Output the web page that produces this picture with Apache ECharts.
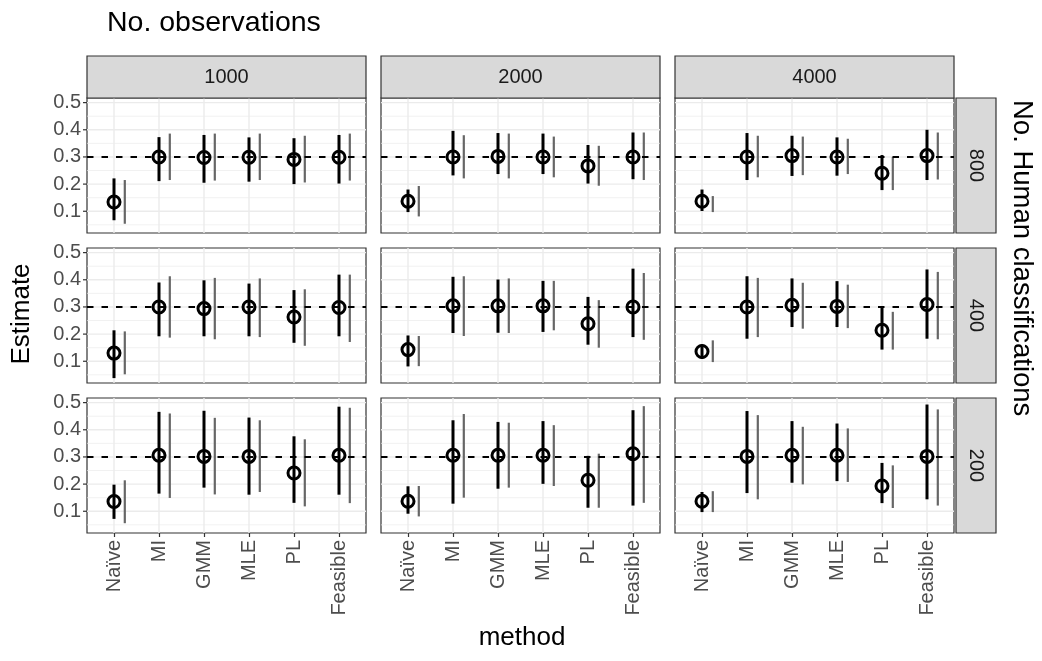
<!DOCTYPE html>
<html>
<head>
<meta charset="utf-8">
<script src="https://cdn.jsdelivr.net/npm/echarts@6/dist/echarts.min.js"></script>
<style>
  html, body { margin: 0; padding: 0; background: #fff; }
  #main { width: 1042px; height: 661px; }
</style>
</head>
<body>
<div id="main"></div>
<script>
var methods = ['Naïve', 'MI', 'GMM', 'MLE', 'PL', 'Feasible'];
var nObs = ['1000', '2000', '4000'];
var nHuman = ['800', '400', '200'];
var yTicks = [0.1, 0.2, 0.3, 0.4, 0.5];
var yMinor = [0.05, 0.15, 0.25, 0.35, 0.45];
var trueValue = 0.3;

// one inner array per No. observations (1000, 2000, 4000)
// est = point estimate, lo/hi = black interval, glo/ghi = grey interval
var est800 = [
  [0.134, 0.300, 0.298, 0.299, 0.291, 0.299],
  [0.137, 0.300, 0.302, 0.300, 0.267, 0.300],
  [0.137, 0.300, 0.305, 0.300, 0.240, 0.305]
];
var lo800 = [
  [0.067, 0.211, 0.205, 0.209, 0.200, 0.202],
  [0.097, 0.232, 0.237, 0.237, 0.202, 0.218],
  [0.101, 0.215, 0.230, 0.231, 0.178, 0.215]
];
var hi800 = [
  [0.221, 0.373, 0.381, 0.372, 0.369, 0.381],
  [0.180, 0.396, 0.388, 0.386, 0.344, 0.390],
  [0.180, 0.388, 0.378, 0.372, 0.307, 0.400]
];
var glo800 = [
  [0.054, 0.215, 0.213, 0.215, 0.206, 0.213],
  [0.081, 0.221, 0.221, 0.225, 0.194, 0.215],
  [0.097, 0.225, 0.233, 0.237, 0.178, 0.217]
];
var ghi800 = [
  [0.215, 0.386, 0.386, 0.386, 0.378, 0.386],
  [0.193, 0.380, 0.386, 0.375, 0.341, 0.390],
  [0.156, 0.378, 0.375, 0.367, 0.299, 0.390]
];

var est400 = [
  [0.130, 0.300, 0.294, 0.300, 0.263, 0.298],
  [0.143, 0.304, 0.304, 0.304, 0.238, 0.300],
  [0.136, 0.300, 0.306, 0.302, 0.214, 0.309]
];
var lo400 = [
  [0.038, 0.192, 0.192, 0.192, 0.168, 0.192],
  [0.081, 0.204, 0.205, 0.208, 0.161, 0.189],
  [0.109, 0.183, 0.226, 0.226, 0.143, 0.183]
];
var hi400 = [
  [0.214, 0.390, 0.398, 0.386, 0.362, 0.419],
  [0.195, 0.411, 0.401, 0.396, 0.337, 0.441],
  [0.162, 0.413, 0.405, 0.395, 0.300, 0.438]
];
var glo400 = [
  [0.052, 0.187, 0.181, 0.189, 0.157, 0.171],
  [0.082, 0.193, 0.204, 0.214, 0.150, 0.179],
  [0.097, 0.189, 0.220, 0.222, 0.143, 0.181]
];
var ghi400 = [
  [0.210, 0.413, 0.407, 0.405, 0.365, 0.419],
  [0.193, 0.413, 0.405, 0.396, 0.325, 0.425],
  [0.177, 0.407, 0.389, 0.382, 0.282, 0.429]
];

var est200 = [
  [0.136, 0.306, 0.302, 0.302, 0.241, 0.306],
  [0.137, 0.306, 0.306, 0.306, 0.214, 0.312],
  [0.137, 0.302, 0.306, 0.306, 0.193, 0.302]
];
var lo200 = [
  [0.072, 0.165, 0.187, 0.161, 0.131, 0.161],
  [0.091, 0.128, 0.183, 0.201, 0.113, 0.121],
  [0.097, 0.167, 0.205, 0.211, 0.130, 0.144]
];
var hi200 = [
  [0.198, 0.466, 0.470, 0.445, 0.376, 0.485],
  [0.192, 0.435, 0.429, 0.432, 0.304, 0.472],
  [0.171, 0.469, 0.432, 0.423, 0.278, 0.493]
];
var glo200 = [
  [0.056, 0.149, 0.162, 0.171, 0.118, 0.130],
  [0.081, 0.150, 0.187, 0.193, 0.113, 0.131],
  [0.097, 0.144, 0.199, 0.208, 0.112, 0.121]
];
var ghi200 = [
  [0.214, 0.460, 0.444, 0.435, 0.365, 0.481],
  [0.193, 0.458, 0.426, 0.417, 0.312, 0.487],
  [0.174, 0.454, 0.411, 0.405, 0.269, 0.475]
];

var rows = [
  [est800, lo800, hi800, glo800, ghi800],
  [est400, lo400, hi400, glo400, ghi400],
  [est200, lo200, hi200, glo200, ghi200]
];

var font = '"Liberation Sans", Arial, Helvetica, sans-serif';
var colLeft = [87, 381, 675], panelW = 279;
var rowTop = [98, 248, 398], panelH = 135;
var stripTop = 56, stripRight = 956, stripW = 40;
var yMin = 0.02, yMax = 0.517;
var tickSize = 20, titleSize = 26;

var myChart = echarts.init(document.getElementById('main'));

function hLines(idx, values, width) {
  return {
    type: 'custom', xAxisIndex: idx, yAxisIndex: idx, silent: true, z: 1,
    data: values.map(function (v) { return [0, v]; }),
    renderItem: function (params, api) {
      var cs = params.coordSys;
      var y = api.coord([0, api.value(1)])[1];
      return { type: 'line', shape: { x1: cs.x, y1: y, x2: cs.x + cs.width, y2: y },
        style: { stroke: '#ebebeb', lineWidth: width } };
    }
  };
}

function vLines(idx) {
  return {
    type: 'custom', xAxisIndex: idx, yAxisIndex: idx, silent: true, z: 1,
    data: methods.map(function (m, i) { return [i, trueValue]; }),
    renderItem: function (params, api) {
      var cs = params.coordSys;
      var x = api.coord([api.value(0), trueValue])[0];
      return { type: 'line', shape: { x1: x, y1: cs.y, x2: x, y2: cs.y + cs.height },
        style: { stroke: '#ebebeb', lineWidth: 1.4 } };
    }
  };
}

// y ticks + labels on the left column, placed with the panel's own scale
function yAxisMarks(idx) {
  return {
    type: 'custom', xAxisIndex: idx, yAxisIndex: idx, silent: true, z: 5, clip: false,
    data: yTicks.map(function (v) { return [0, v]; }),
    renderItem: function (params, api) {
      var cs = params.coordSys;
      var v = api.value(1);
      var y = api.coord([0, v])[1];
      return { type: 'group', children: [
        { type: 'line', shape: { x1: cs.x - 4, y1: y, x2: cs.x, y2: y },
          style: { stroke: '#333', lineWidth: 1.2 } },
        { type: 'text', x: cs.x - 6, y: y,
          style: { text: v.toFixed(1), fontSize: tickSize, fontFamily: font, fill: '#4d4d4d',
            align: 'right', verticalAlign: 'middle' } }
      ] };
    }
  };
}

// vertical interval, nudged right by "shift" category units
function range(idx, lo, hi, color, width, shift, z) {
  return {
    type: 'custom', xAxisIndex: idx, yAxisIndex: idx, silent: true, z: z,
    data: methods.map(function (m, i) { return [i, lo[i], hi[i]]; }),
    renderItem: function (params, api) {
      var a = api.coord([api.value(0), api.value(1)]);
      var b = api.coord([api.value(0), api.value(2)]);
      var dx = api.size([shift, 0])[0];
      return { type: 'line', shape: { x1: a[0] + dx, y1: a[1], x2: b[0] + dx, y2: b[1] },
        style: { stroke: color, lineWidth: width } };
    }
  };
}

var grids = [], xAxes = [], yAxes = [], series = [], graphics = [];

for (var r = 0; r < 3; r++) {
  for (var c = 0; c < 3; c++) {
    var idx = r * 3 + c;
    var d = rows[r];
    grids.push({
      left: colLeft[c], top: rowTop[r], width: panelW, height: panelH,
      show: true, backgroundColor: '#fff', borderColor: '#333', borderWidth: 1.2,
      containLabel: false, outerBoundsMode: 'none'
    });
    xAxes.push({
      type: 'value', gridIndex: idx, min: -0.6, max: 5.6,
      axisLine: { show: false }, splitLine: { show: false },
      axisTick: { show: r === 2, customValues: methods.map(function (m, i) { return i; }),
        length: 4, lineStyle: { color: '#333', width: 1.2 } },
      axisLabel: { show: r === 2, customValues: methods.map(function (m, i) { return i; }),
        rotate: 90, margin: 7, fontSize: tickSize, color: '#4d4d4d', fontFamily: font,
        formatter: function (v) { return methods[Math.round(v)]; } }
    });
    yAxes.push({
      type: 'value', gridIndex: idx, min: yMin, max: yMax,
      axisLine: { show: false }, splitLine: { show: false },
      axisTick: { show: false }, axisLabel: { show: false }
    });

    series.push(hLines(idx, yMinor, 0.7));
    series.push(hLines(idx, yTicks, 1.4));
    series.push(vLines(idx));
    if (c === 0) series.push(yAxisMarks(idx));
    series.push(range(idx, d[3][c], d[4][c], '#666666', 2.2, 0.24, 2));
    series.push(range(idx, d[1][c], d[2][c], '#000000', 3, 0, 3));
    series.push({
      type: 'scatter', xAxisIndex: idx, yAxisIndex: idx, silent: true, z: 4,
      symbol: 'circle', symbolSize: 12,
      itemStyle: { color: 'rgba(0,0,0,0)', borderColor: '#000', borderWidth: 3, opacity: 1 },
      data: methods.map(function (m, i) { return [i, d[0][c][i]]; }),
      markLine: {
        silent: true, symbol: 'none', label: { show: false },
        lineStyle: { color: '#000', width: 2.2, type: [6.5, 8] },
        data: [{ yAxis: trueValue }]
      }
    });
  }
}

// facet strips
nObs.forEach(function (t, c) {
  graphics.push({
    type: 'rect', z: 10,
    shape: { x: colLeft[c], y: stripTop, width: panelW, height: rowTop[0] - stripTop },
    style: { fill: '#d9d9d9', stroke: '#333', lineWidth: 1.2 }
  });
  graphics.push({
    type: 'text', z: 11, x: colLeft[c] + panelW / 2, y: (stripTop + rowTop[0]) / 2,
    style: { text: t, fontSize: tickSize, fontFamily: font, fill: '#1a1a1a',
      align: 'center', verticalAlign: 'middle' }
  });
});
nHuman.forEach(function (t, r) {
  graphics.push({
    type: 'rect', z: 10,
    shape: { x: stripRight, y: rowTop[r], width: stripW, height: panelH },
    style: { fill: '#d9d9d9', stroke: '#333', lineWidth: 1.2 }
  });
  graphics.push({
    type: 'text', z: 11, x: stripRight + stripW / 2, y: rowTop[r] + panelH / 2,
    rotation: -Math.PI / 2,
    style: { text: t, fontSize: tickSize, fontFamily: font, fill: '#1a1a1a',
      align: 'center', verticalAlign: 'middle' }
  });
});

// titles
graphics.push({
  type: 'text', x: 107, y: 23,
  style: { text: 'No. observations', fontSize: 28.5, fontFamily: font, fill: '#000',
    align: 'left', verticalAlign: 'middle' }
});
graphics.push({
  type: 'text', x: 1022, y: 100, rotation: -Math.PI / 2,
  style: { text: 'No. Human classifications', fontSize: 27.5, fontFamily: font, fill: '#000',
    align: 'left', verticalAlign: 'middle' }
});
graphics.push({
  type: 'text', x: 22, y: 314, rotation: Math.PI / 2,
  style: { text: 'Estimate', fontSize: titleSize, fontFamily: font, fill: '#000',
    align: 'center', verticalAlign: 'middle' }
});
graphics.push({
  type: 'text', x: 522, y: 638,
  style: { text: 'method', fontSize: titleSize, fontFamily: font, fill: '#000',
    align: 'center', verticalAlign: 'middle' }
});

myChart.setOption({
  animation: false,
  backgroundColor: '#fff',
  grid: grids,
  xAxis: xAxes,
  yAxis: yAxes,
  series: series,
  graphic: graphics
});
</script>
</body>
</html>
